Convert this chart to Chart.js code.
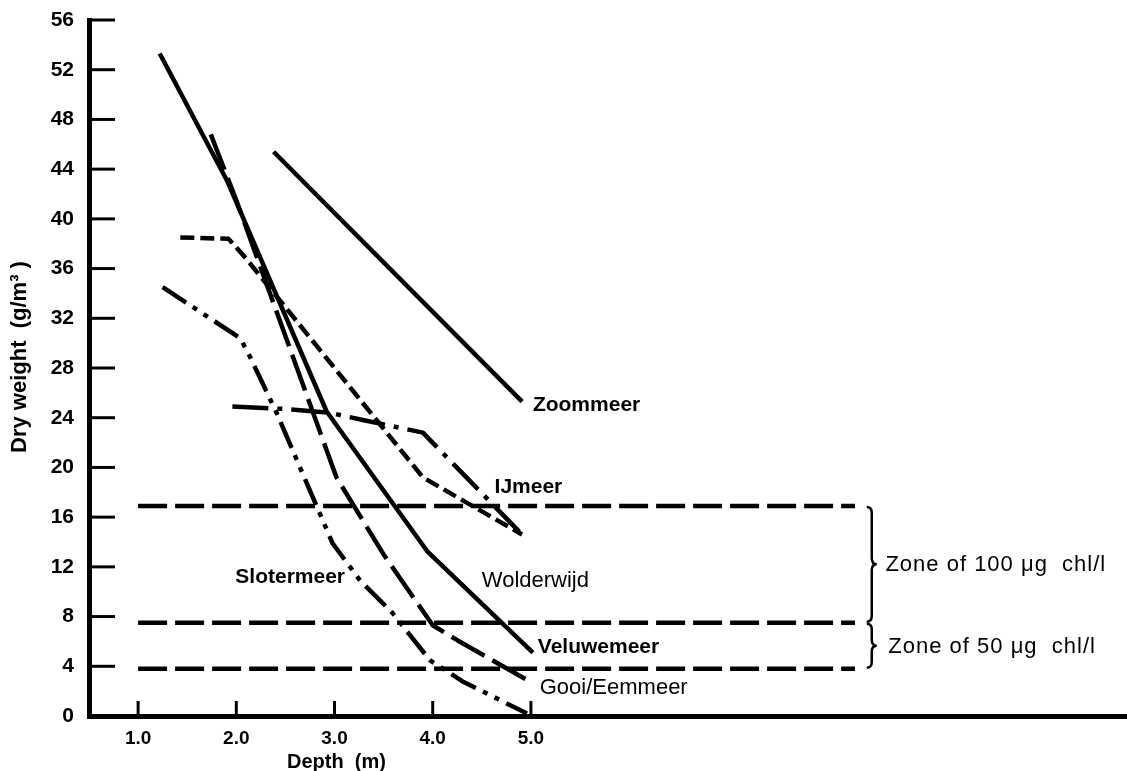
<!DOCTYPE html>
<html><head><meta charset="utf-8">
<script src="https://cdn.jsdelivr.net/npm/chart.js@4.4.1/dist/chart.umd.min.js"></script>
<style>html,body{margin:0;padding:0;background:#fff;}canvas{display:block;}</style>
</head><body>
<canvas id="c" width="1127" height="771"></canvas>
<script>
// Tick values
const xTicks = [1, 2, 3, 4, 5];
const yTicks = [0, 4, 8, 12, 16, 20, 24, 28, 32, 36, 40, 44, 48, 52, 56];

// Series (depth in m, dry weight in g/m3)
const zoommeerX = [2.38, 4.91];
const zoommeerY = [45.4, 25.3];
const veluwemeerX = [1.22, 1.91, 2.92, 3.95, 5.02];
const veluwemeerY = [53.3, 43.0, 24.5, 13.2, 5.1];
const gooiX = [1.74, 2.0, 3.02, 3.5, 4.0, 4.25, 4.96];
const gooiY = [46.8, 41.5, 19.2, 13.0, 7.3, 6.1, 2.9];
const ijmeerX = [1.43, 1.92, 2.1, 3.9, 4.91];
const ijmeerY = [38.5, 38.4, 36.8, 19.2, 14.6];
const wolderwijdX = [1.96, 2.5, 2.95, 3.3, 3.9, 4.91];
const wolderwijdY = [24.9, 24.7, 24.4, 23.8, 22.8, 14.6];
const slotermeerX = [1.25, 2.04, 2.14, 2.41, 2.98, 3.26, 3.59, 3.97, 4.3, 4.96];
const slotermeerY = [34.5, 30.4, 28.9, 24.4, 13.9, 10.9, 8.3, 4.5, 2.8, 0.2];

// Chlorophyll zones
const zoneLevels = [16.9, 7.5, 3.8];
const zoneFrom = 1.0;
const zoneTo = 8.3;
const braceAt = 8.42;
const zoneTexts = ['Zone of 100 \u03BCg  chl/l', 'Zone of 50 \u03BCg  chl/l'];
const zoneTextX = [8.61, 8.64];

// Lake labels
const labelTexts = ['Zoommeer', 'IJmeer', 'Wolderwijd', 'Veluwemeer', 'Gooi/Eemmeer', 'Slotermeer'];
const labelX = [5.02, 4.63, 4.5, 5.07, 5.09, 1.99];
const labelY = [25.0, 18.4, 10.9, 5.5, 2.25, 11.2];
const labelBold = [true, true, false, true, false, true];

const pts = (xs, ys) => xs.map((x, i) => ({x: x, y: ys[i]}));
const line = (xs, ys, dash) => ({
  data: pts(xs, ys), borderColor: '#000', borderWidth: 4.5, borderDash: dash,
  pointRadius: 0, tension: 0, fill: false, borderCapStyle: 'butt', borderJoinStyle: 'round'
});

const datasets = [
  line(zoommeerX, zoommeerY, []),
  line(veluwemeerX, veluwemeerY, []),
  line(gooiX, gooiY, [38, 9]),
  line(ijmeerX, ijmeerY, [14, 6]),
  line(wolderwijdX, wolderwijdY, [36, 9, 5, 9]),
  line(slotermeerX, slotermeerY, [28, 8, 5, 8, 5, 8])
];
zoneLevels.forEach(v => datasets.push(line([zoneFrom, zoneTo], [v, v], [29, 8])));

const FONT = '"Liberation Sans", Arial, Helvetica, sans-serif';

const deco = {
  id: 'deco',
  afterDraw(chart) {
    const {ctx, chartArea: a, scales: {x, y}} = chart;
    ctx.save();
    ctx.strokeStyle = '#000';
    ctx.fillStyle = '#000';
    ctx.lineWidth = 3;
    // inward tick marks
    xTicks.forEach(v => {
      const px = x.getPixelForValue(v);
      ctx.beginPath(); ctx.moveTo(px, a.bottom); ctx.lineTo(px, a.bottom - 15); ctx.stroke();
    });
    yTicks.forEach(v => {
      if (v === 0) return;
      const py = y.getPixelForValue(v);
      ctx.beginPath(); ctx.moveTo(a.left, py); ctx.lineTo(a.left + 26, py); ctx.stroke();
    });
    // braces
    const bx = x.getPixelForValue(braceAt);
    const brace = (yt, yb) => {
      const w = 10, r = 6, ym = (yt + yb) / 2;
      ctx.beginPath();
      ctx.moveTo(bx, yt);
      ctx.quadraticCurveTo(bx + w / 2, yt, bx + w / 2, yt + r);
      ctx.lineTo(bx + w / 2, ym - r);
      ctx.quadraticCurveTo(bx + w / 2, ym, bx + w, ym);
      ctx.quadraticCurveTo(bx + w / 2, ym, bx + w / 2, ym + r);
      ctx.lineTo(bx + w / 2, yb - r);
      ctx.quadraticCurveTo(bx + w / 2, yb, bx, yb);
      ctx.stroke();
    };
    ctx.lineWidth = 2.5;
    for (let i = 0; i < zoneLevels.length - 1; i++) {
      const yt = y.getPixelForValue(zoneLevels[i]);
      const yb = y.getPixelForValue(zoneLevels[i + 1]);
      brace(yt + 1, yb - 1);
      ctx.font = '22px ' + FONT;
      ctx.letterSpacing = '1px';
      ctx.textAlign = 'left';
      ctx.textBaseline = 'middle';
      ctx.fillText(zoneTexts[i], x.getPixelForValue(zoneTextX[i]), (yt + yb) / 2 + 1);
      ctx.letterSpacing = '0px';
    }
    // lake labels
    ctx.textAlign = 'left';
    ctx.textBaseline = 'middle';
    labelTexts.forEach((t, i) => {
      ctx.font = (labelBold[i] ? 'bold 21px ' : '22px ') + FONT;
      ctx.fillText(t, x.getPixelForValue(labelX[i]), y.getPixelForValue(labelY[i]));
    });
    // axis titles
    ctx.font = 'bold 20px ' + FONT;
    ctx.textAlign = 'center';
    ctx.fillText('Depth  (m)', x.getPixelForValue(3.02), 762);
    ctx.save();
    ctx.translate(20, 357);
    ctx.rotate(-Math.PI / 2);
    ctx.font = 'bold 22px ' + FONT;
    ctx.fillText('Dry weight  (g/m\u00B3 )', 0, 0);
    ctx.restore();
    ctx.restore();
  }
};

new Chart(document.getElementById('c'), {
  type: 'line',
  data: {datasets: datasets},
  options: {
    responsive: false,
    animation: false,
    devicePixelRatio: 1,
    layout: {padding: {top: 20, right: 0, left: 0, bottom: 0}},
    plugins: {legend: {display: false}, tooltip: {enabled: false}},
    scales: {
      x: {
        type: 'linear', min: 0.5, max: 11.07,
        afterBuildTicks: s => { s.ticks = xTicks.map(v => ({value: v})); },
        afterFit: s => { s.height = 55; s.paddingLeft = 0; s.paddingRight = 0; },
        grid: {display: false, drawTicks: false},
        border: {display: true, width: 5, color: '#000'},
        ticks: {color: '#000', padding: 11, autoSkip: false, maxRotation: 0,
          font: {family: FONT, size: 19, weight: 'bold'}, callback: v => Number(v).toFixed(1)}
      },
      y: {
        type: 'linear', min: 0, max: 56,
        afterBuildTicks: s => { s.ticks = yTicks.map(v => ({value: v})); },
        afterFit: s => { s.width = 89; s.paddingTop = 0; s.paddingBottom = 0; },
        grid: {display: false, drawTicks: false},
        border: {display: true, width: 5, color: '#000'},
        ticks: {color: '#000', padding: 15, autoSkip: false,
          font: {family: FONT, size: 21, weight: 'bold'}, callback: v => String(v)}
      }
    }
  },
  plugins: [deco]
});
</script>
</body></html>
